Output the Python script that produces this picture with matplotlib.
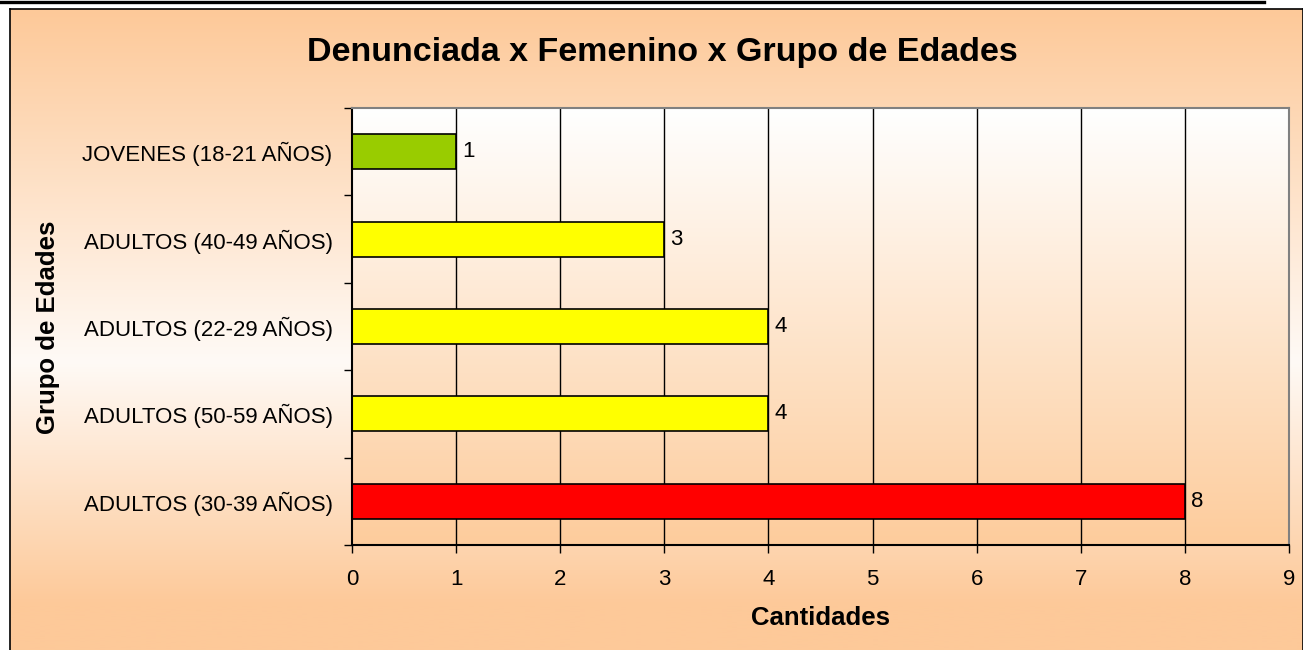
import numpy as np
import matplotlib
matplotlib.use("Agg")
import matplotlib.pyplot as plt
from matplotlib.lines import Line2D

categories = ["ADULTOS (30-39 AÑOS)", "ADULTOS (50-59 AÑOS)", "ADULTOS (22-29 AÑOS)",
              "ADULTOS (40-49 AÑOS)", "JOVENES (18-21 AÑOS)"]
values = [8, 4, 4, 3, 1]
colors = ["#FF0000", "#FFFF00", "#FFFF00", "#FFFF00", "#99CC00"]
xticks = [0, 1, 2, 3, 4, 5, 6, 7, 8, 9]

title = "Denunciada x Femenino x Grupo de Edades"
xlabel = "Cantidades"
ylabel = "Grupo de Edades"

plt.rcParams['font.family'] = ['Liberation Sans', 'DejaVu Sans']

W, H = 1303, 650
fig = plt.figure(figsize=(W/100, H/100), dpi=100)
fig.patch.set_facecolor("white")

peach = np.array([253, 201, 153]) / 255
light = np.array([255, 250, 246]) / 255

# figure background gradient (frame area)
bg = fig.add_axes([10/W, 0, 1 - 10/W, 1 - 9/H], zorder=-10)
n = 256
t = np.linspace(0, 1, n)  # 0 at top
stops_t = [0, 0.55, 0.93, 1.0]
stops_c = [peach, light, peach, peach]
grad = np.zeros((n, 1, 3))
for k in range(3):
    grad[:, 0, k] = np.interp(t, stops_t, [c[k] for c in stops_c])
bg.imshow(grad, aspect='auto', extent=[0, 1, 0, 1], origin='upper')
bg.set_xlim(0, 1)
bg.set_ylim(0, 1)
bg.set_xticks([])
bg.set_yticks([])
for s in bg.spines.values():
    s.set_color("black")
    s.set_linewidth(1.2)
bg.spines['bottom'].set_visible(False)

# top thick line
fig.add_artist(Line2D([0, 1264/W], [1 - 1.5/H, 1 - 1.5/H], color="black", lw=2.4,
                      transform=fig.transFigure))

left, right, top, bottom = 352, 1289, 108, 545
ax = fig.add_axes([left/W, (H - bottom)/H, (right - left)/W, (bottom - top)/H])
ax.set_facecolor("none")

# plot area gradient white->peach
pg = np.zeros((n, 1, 3))
top_c = np.array([255, 255, 255]) / 255
bot_c = np.array([253, 204, 156]) / 255
for k in range(3):
    pg[:, 0, k] = np.interp(t, [0, 1], [top_c[k], bot_c[k]])
ax.imshow(pg, aspect='auto', extent=[0, 9, -0.5, len(categories) - 0.5],
          origin='upper', zorder=0)

y = np.arange(len(categories))
ax.barh(y, values, height=0.4, color=colors, edgecolor="black", linewidth=1.2, zorder=3)
for yi, v in zip(y, values):
    ax.text(v + 0.06, yi, str(v), va='center', ha='left', fontsize=16, zorder=4)

ax.set_xlim(0, 9)
ax.set_ylim(-0.5, len(categories) - 0.5)
ax.set_xticks(xticks)
ax.set_xticklabels([str(x) for x in xticks], fontsize=16)
ax.tick_params(axis='x', direction='out', length=6, width=1, pad=11, colors='black')
ax.set_yticks(y)
ax.set_yticklabels(categories, fontsize=16)
ax.tick_params(axis='y', which='major', length=0, pad=14)
ax.set_yticks(np.arange(-0.5, len(categories), 1.0), minor=True)
ax.tick_params(axis='y', which='minor', direction='out', length=6, width=1)

for xv in xticks[1:-1]:
    ax.axvline(xv, color='black', linewidth=1.0, zorder=1)

ax.spines['left'].set_color('black')
ax.spines['bottom'].set_color('black')
ax.spines['top'].set_color('#808080')
ax.spines['right'].set_color('#808080')
for s in ax.spines.values():
    s.set_linewidth(1.5)
    s.set_zorder(5)

ax.set_xlabel(xlabel, fontsize=18.5, fontweight='bold', labelpad=12)
fig.text(48/W, (H - 327)/H, ylabel, rotation=90, fontsize=18.5, fontweight='bold',
         ha='center', va='center')
fig.text(662/W, (H - 52)/H, title, fontsize=24.5, fontweight='bold',
         ha='center', va='center')

fig.savefig("out.png", dpi=100)
